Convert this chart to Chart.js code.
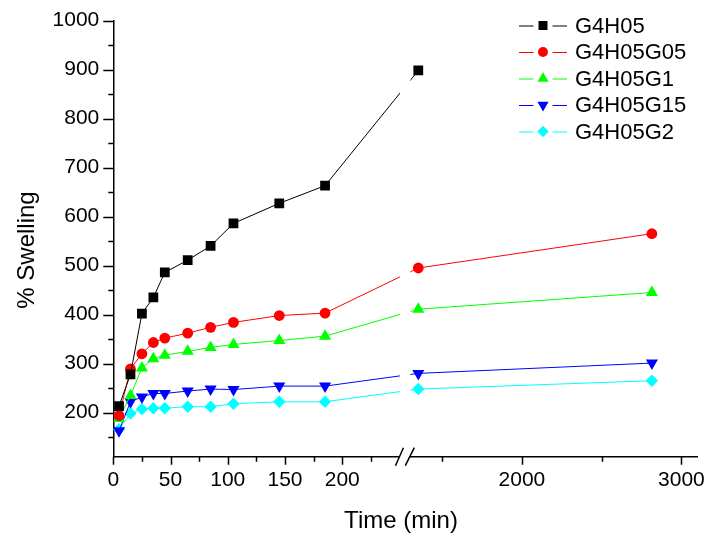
<!DOCTYPE html>
<html><head><meta charset="utf-8">
<script src="https://cdn.jsdelivr.net/npm/chart.js@4/dist/chart.umd.min.js"></script>
<style>html,body{margin:0;padding:0;background:#fff}#wrap{width:708px;height:536px;position:relative}</style>
</head><body><div id="wrap"><canvas id="c"></canvas></div>
<script>
// ---- data ----
const timeMin   = [5,15,25,35,45,65,85,105,145,185,1350,2815];
const seriesNames = ['G4H05','G4H05G05','G4H05G1','G4H05G15','G4H05G2'];
const g4h05     = [213,278,402,435,486,511,540,586,627,663,898];
const g4h05g05  = [194,289,320,343,352,362,374,384,398,403,495,565];
const g4h05g1   = [188,235,291,310,317,325,333,339,347,356,411,445];
const g4h05g15  = [163,222,232,239,239,244,248,247,254,254,280,301];
const g4h05g2   = [166,198,207,209,209,212,212,218,222,222,248,265];
const xMajorTicks = [0,50,100,150,200,2000,3000];
const xMinorTicks = [25,75,125,175,225,1500,2500];
const yMajorTicks = [200,300,400,500,600,700,800,900,1000];
const yMinorTicks = [150,250,350,450,550,650,750,850,950];
const xBreak = {leftMax:250, rightMin:1300, rightMax:3100};
const yRange = {min:110, max:1000};

// ---- broken-axis mapping (layout) ----
const BREAK_GAP = 9.5;      // axis units taken by the break
const RIGHT_RATIO = 0.1393; // compression of the right segment
function xd(t){ return t <= xBreak.leftMax ? t : xBreak.leftMax + BREAK_GAP + (t - xBreak.rightMin) * RIGHT_RATIO; }

const colors = ['#000000','#ff0000','#00ff00','#0000ff','#00ffff'];
const styles = [
  {pointStyle:'rect', radius:6.9, rotation:0},
  {pointStyle:'circle', radius:5.4, rotation:0},
  {pointStyle:'triangle', radius:7.0, rotation:0},
  {pointStyle:'triangle', radius:7.0, rotation:180},
  {pointStyle:'rectRot', radius:6.2, rotation:0}
];
const allSeries = [g4h05, g4h05g05, g4h05g1, g4h05g15, g4h05g2];

const datasets = allSeries.map((vals, i) => ({
  label: seriesNames[i],
  data: vals.map((v, j) => ({x: xd(timeMin[j]), y: v})),
  borderColor: colors[i],
  backgroundColor: colors[i],
  borderWidth: 1,
  pointStyle: styles[i].pointStyle,
  pointRadius: styles[i].radius,
  pointRotation: styles[i].rotation,
  pointBorderWidth: 0,
  pointBackgroundColor: colors[i],
  tension: 0,
  fill: false
}));

const FONT = "'Liberation Sans', Arial, sans-serif";

function drawMarker(ctx, st, x, y, color){
  ctx.fillStyle = color;
  if (Chart.helpers && Chart.helpers.drawPoint) {
    Chart.helpers.drawPoint(ctx, {pointStyle: st.pointStyle, radius: st.radius * 0.92, rotation: st.rotation, borderWidth: 0}, x, y);
  }
}

const decor = {
  id: 'decor',
  afterDatasetsDraw(chart){
    const {ctx, chartArea: a, scales: {x}} = chart;
    const p1 = x.getPixelForValue(xd(xBreak.leftMax));
    const p2 = x.getPixelForValue(xd(xBreak.rightMin));
    ctx.save();
    ctx.fillStyle = '#fff';
    ctx.fillRect(p1 + 0.5, 0, p2 - p1 - 0.5, a.bottom - 1.5);
    ctx.restore();
  },
  afterDraw(chart){
    const {ctx, chartArea: a, scales: {x, y}} = chart;
    ctx.save();
    ctx.strokeStyle = '#000';
    ctx.lineWidth = 1.5;
    ctx.beginPath();
    xMajorTicks.forEach(t => { const px = Math.round(x.getPixelForValue(xd(t))) + 0.5; ctx.moveTo(px, a.bottom); ctx.lineTo(px, a.bottom + 8); });
    xMinorTicks.forEach(t => { const px = Math.round(x.getPixelForValue(xd(t))) + 0.5; ctx.moveTo(px, a.bottom); ctx.lineTo(px, a.bottom + 5); });
    yMajorTicks.forEach(v => { const py = Math.round(y.getPixelForValue(v)) + 0.5; ctx.moveTo(a.left, py); ctx.lineTo(a.left - 10, py); });
    yMinorTicks.forEach(v => { const py = Math.round(y.getPixelForValue(v)) + 0.5; ctx.moveTo(a.left, py); ctx.lineTo(a.left - 5, py); });
    ctx.stroke();

    // axis break marks
    const p1 = x.getPixelForValue(xd(xBreak.leftMax));
    const p2 = x.getPixelForValue(xd(xBreak.rightMin));
    const yb = a.bottom;
    ctx.fillStyle = '#fff';
    ctx.beginPath();
    ctx.moveTo(p1 - 2, yb + 4); ctx.lineTo(p1 + 2, yb - 4); ctx.lineTo(p2 + 1, yb - 4); ctx.lineTo(p2 - 3, yb + 4); ctx.closePath();
    ctx.fill();
    ctx.beginPath();
    ctx.moveTo(p1 - 4, yb + 9); ctx.lineTo(p1 + 4, yb - 9);
    ctx.moveTo(p2 - 5, yb + 9); ctx.lineTo(p2 + 4, yb - 9);
    ctx.stroke();

    // axis titles
    ctx.fillStyle = '#000';
    ctx.font = '24px ' + FONT;
    ctx.textAlign = 'center';
    ctx.textBaseline = 'middle';
    ctx.fillText('Time (min)', 401, 521);
    ctx.save();
    ctx.translate(27.5, 250);
    ctx.rotate(-Math.PI / 2);
    ctx.fillText('% Swelling', 0, 0);
    ctx.restore();

    // legend
    ctx.font = '22px ' + FONT;
    ctx.textAlign = 'left';
    seriesNames.forEach((name, i) => {
      const ry = 25.5 + i * 26.5;
      ctx.strokeStyle = colors[i];
      ctx.lineWidth = 1;
      ctx.beginPath();
      ctx.moveTo(519, ry + 0.5); ctx.lineTo(533.5, ry + 0.5);
      ctx.moveTo(552.5, ry + 0.5); ctx.lineTo(567, ry + 0.5);
      ctx.stroke();
      drawMarker(ctx, styles[i], 543, ry, colors[i]);
      ctx.fillStyle = '#000';
      ctx.fillText(name, 575, ry + 1);
    });
    ctx.restore();
  }
};

new Chart(document.getElementById('c'), {
  type: 'line',
  data: { datasets },
  options: {
    responsive: true,
    maintainAspectRatio: false,
    animation: false,
    events: [],
    layout: { padding: { left: 0, right: 9.7, top: 20.5, bottom: 0 } },
    plugins: { legend: { display: false }, tooltip: { enabled: false } },
    scales: {
      x: {
        type: 'linear',
        min: 0,
        max: xd(xBreak.rightMax),
        afterBuildTicks: s => { s.ticks = xMajorTicks.map(t => ({value: xd(t)})); },
        afterFit: s => { s.height = 79.3; },
        ticks: {
          autoSkip: false, maxRotation: 0, padding: 3,
          color: '#000', font: { family: FONT, size: 21 },
          callback: (v, i) => String(xMajorTicks[i])
        },
        grid: { display: false, drawTicks: true, tickLength: 8 },
        border: { display: true, color: '#000', width: 1.5 }
      },
      y: {
        type: 'linear',
        min: yRange.min,
        max: yRange.max,
        afterBuildTicks: s => { s.ticks = yMajorTicks.map(v => ({value: v})); },
        afterFit: s => { s.width = 113.3; },
        ticks: {
          autoSkip: false, padding: 4,
          color: '#000', font: { family: FONT, size: 21 },
          callback: (v) => String(v)
        },
        grid: { display: false, drawTicks: true, tickLength: 10 },
        border: { display: true, color: '#000', width: 1.5 }
      }
    }
  },
  plugins: [decor]
});
</script>
</body></html>
